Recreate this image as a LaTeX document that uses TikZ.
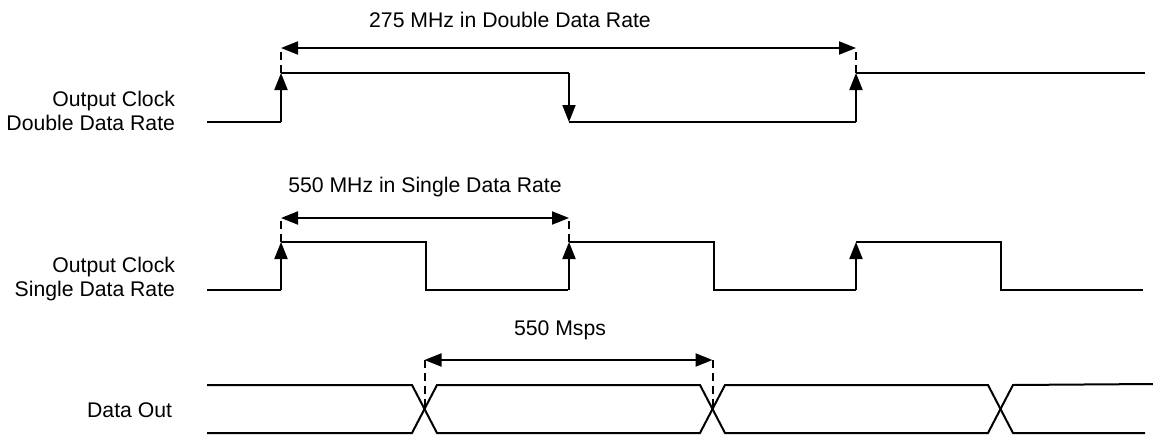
\documentclass[tikz,border=0pt]{standalone}
\usepackage{fontspec}
\setmainfont{Liberation Sans}
\usetikzlibrary{positioning, arrows.meta, calc}

\begin{document}
\begin{tikzpicture}[x=0.5pt, y=-0.5pt, line width=1pt,
    tip/.tip = {Triangle[length=8.5pt, width=6.5pt]},
    clkedge/.style = {-tip},
    dim/.style = {tip-tip},
    guide/.style = {dash pattern=on 4pt off 2.5pt},
    lbl/.style = {align=right, anchor=east, inner sep=0pt, font=\fontsize{10.6}{12}\selectfont},
    txt/.style = {inner sep=0pt, font=\fontsize{10.6}{12}\selectfont}]
    \useasboundingbox (0,0) rectangle (1153,435);

    % double data rate clock
    \node[lbl] (ddr) at (176,111) {Output Clock\\Double Data Rate};
    \coordinate (d0) at (207,122);
    \coordinate (d1l) at (281,122); \coordinate (d1h) at (281,73);
    \coordinate (d2h) at (569,73);  \coordinate (d2l) at (569,122);
    \coordinate (d3l) at (856,122); \coordinate (d3h) at (856,73);
    \coordinate (d4) at (1145,73);
    \draw (d0) -- (d1l);
    \draw[clkedge] (d1l) -- (d1h);
    \draw (d1h) -- (d2h);
    \draw[clkedge] (d2h) -- (d2l);
    \draw (d2l) -- (d3l);
    \draw[clkedge] (d3l) -- (d3h);
    \draw (d3h) -- (d4);
    \coordinate (dda) at (281,48); \coordinate (ddb) at (856,48);
    \draw[guide] (d1h) -- (dda);
    \draw[guide] (d3h) -- (ddb);
    \draw[dim] (dda) -- (ddb);
    \node[txt] (ddrtxt) at (510,20) {275 MHz in Double Data Rate};

    % single data rate clock
    \node[lbl] (sdr) at (176,279) {Output Clock\\Single Data Rate};
    \coordinate (s0) at (207,290);
    \draw (s0) -- (281,290);
    \foreach \x/\n in {281/a, 569/b, 856/c} {
        \coordinate (s\n l) at (\x,290);
        \coordinate (s\n h) at (\x,242);
        \draw[clkedge] (s\n l) -- (s\n h);
        \draw (s\n h) -- (\x+145,242) -- (\x+145,290) -- (\x+287,290);
    }
    \coordinate (sda) at (281,218); \coordinate (sdb) at (569,218);
    \draw[guide] (sah) -- (sda);
    \draw[guide] (sbh) -- (sdb);
    \draw[dim] (sda) -- (sdb);
    \node[txt] (sdrtxt) at (425,187) {550 MHz in Single Data Rate};

    % data out
    \node[lbl] (dout) at (173,410) {Data Out};
    \coordinate (x1) at (424.5,410);
    \coordinate (x2) at (712.5,410);
    \draw (207,385) -- (412,385) -- (437,433) -- (700,433) -- (725,385)
        -- (988,385) -- (1013,433) -- (1145,433);
    \draw (207,433) -- (412,433) -- (437,385) -- (700,385) -- (725,433)
        -- (988,433) -- (1013,385) -- (1153,384);
    \coordinate (xa) at (424.5,360); \coordinate (xb) at (712.5,360);
    \draw[guide] (xa) -- (x1);
    \draw[guide] (xb) -- (x2);
    \draw[dim] (xa) -- (xb);
    \node[txt] (msps) at (560,330) {550 Msps};
\end{tikzpicture}
\end{document}
